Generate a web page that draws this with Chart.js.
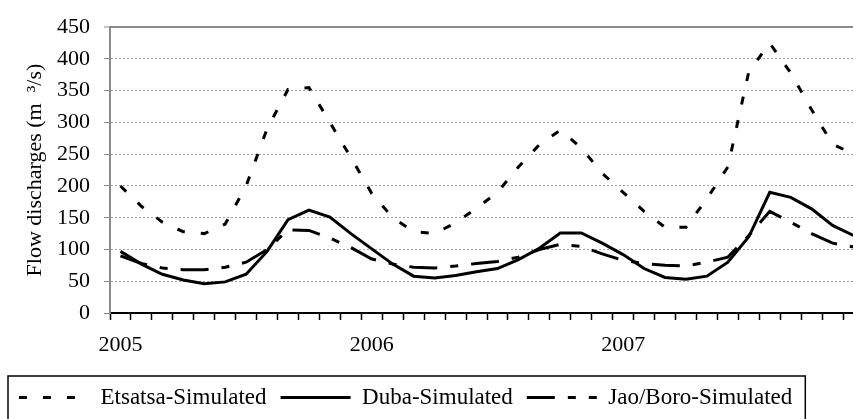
<!DOCTYPE html>
<html>
<head>
<meta charset="utf-8">
<script src="https://cdn.jsdelivr.net/npm/chart.js@4.4.1/dist/chart.umd.min.js"></script>
<style>
  html, body { margin: 0; padding: 0; background: #fff; overflow: hidden; }
  #wrap { width: 870px; height: 419px; }
</style>
</head>
<body>
<div id="wrap"><canvas id="flowChart" width="870" height="419"></canvas></div>
<script>
// monthly values, Jan 2005 - Dec 2007
const years = ['2005', '2006', '2007'];
const monthNames = ['Jan', 'Feb', 'Mar', 'Apr', 'May', 'Jun', 'Jul', 'Aug', 'Sep', 'Oct', 'Nov', 'Dec'];

const etsatsa = [200, 168, 143, 128, 125, 140, 200, 290, 352, 355, 300, 245,
                 188, 150, 128, 125, 142, 165, 190, 230, 265, 288, 260, 220,
                 190, 160, 135, 135, 180, 230, 380, 425, 378, 320, 266, 250];
const duba = [97, 77, 61, 52, 46, 49, 61, 97, 147, 162, 151, 125,
              101, 77, 58, 55, 59, 65, 70, 84, 102, 126, 126, 110,
              92, 70, 56, 53, 58, 80, 120, 190, 182, 164, 138, 122];
const jaoBoro = [90, 78, 71, 68, 68, 72, 80, 100, 131, 130, 118, 103,
                 85, 77, 72, 71, 74, 78, 81, 88, 100, 108, 105, 93,
                 83, 78, 75, 74, 80, 88, 122, 160, 143, 125, 110, 104];

const yMin = 0, yMax = 450, yStep = 50;

let months = [];
years.forEach(function (y) {
    monthNames.forEach(function (m) { months.push(m + ' ' + y); });
});

const serif = "'Liberation Serif', 'Times New Roman', serif";

// frame round the legend, like the excel one
const legendFrame = {
    id: 'legendFrame',
    afterDraw(chart) {
        let boxes = chart.legend.legendHitBoxes;
        if (!boxes || !boxes.length) return;
        let first = boxes[0];
        let last = boxes[boxes.length - 1];
        let cy = first.top + first.height / 2;
        let ctx = chart.ctx;
        ctx.save();
        ctx.strokeStyle = '#000';
        ctx.lineWidth = 1.5;
        ctx.strokeRect(first.left - 11, cy - 21.5, last.left + last.width - first.left + 24, 50);
        ctx.restore();
    }
};

new Chart('flowChart', {
    type: 'line',
    data: {
        labels: months,
        datasets: [{
            label: 'Etsatsa-Simulated',
            data: etsatsa,
            borderColor: '#000',
            borderWidth: 3,
            borderDash: [8, 16]
        }, {
            label: 'Duba-Simulated',
            data: duba,
            borderColor: '#000',
            borderWidth: 3
        }, {
            label: 'Jao/Boro-Simulated',
            data: jaoBoro,
            borderColor: '#000',
            borderWidth: 3,
            borderDash: [28, 13, 8, 13]
        }]
    },
    options: {
        responsive: false,
        devicePixelRatio: 1,
        animation: false,
        layout: { padding: { left: 5, right: 6, top: 19, bottom: 0 } },
        elements: {
            point: { radius: 0 },
            line: { tension: 0, fill: false, borderCapStyle: 'butt' }
        },
        plugins: {
            tooltip: { enabled: false },
            legend: {
                position: 'bottom',
                align: 'start',
                labels: {
                    usePointStyle: true,
                    pointStyle: 'line',
                    pointStyleWidth: 70,
                    padding: 14,
                    color: '#000',
                    font: { family: serif, size: 23 },
                    generateLabels: function (chart) {
                        return chart.data.datasets.map(function (ds, i) {
                            return {
                                text: ds.label,
                                fillStyle: 'rgba(0,0,0,0)',
                                strokeStyle: '#000',
                                fontColor: '#000',
                                lineWidth: 3,
                                lineDash: ds.borderDash || [],
                                pointStyle: 'line',
                                hidden: false,
                                datasetIndex: i
                            };
                        });
                    }
                }
            }
        },
        scales: {
            x: {
                type: 'category',
                offset: true,
                afterFit: function (s) { s.height = 59; },
                grid: {
                    offset: true,
                    drawOnChartArea: false,
                    drawTicks: true,
                    tickLength: 7,
                    tickColor: '#000',
                    tickWidth: 1.5
                },
                border: { color: '#000', width: 2 },
                ticks: {
                    autoSkip: false,
                    maxRotation: 0,
                    padding: 12,
                    color: '#000',
                    font: { family: serif, size: 22 },
                    callback: function (val, i) {
                        return i % 12 === 0 ? months[i].slice(-4) : '';
                    }
                }
            },
            y: {
                min: yMin,
                max: yMax,
                afterFit: function (s) { s.width = 105; },
                grid: {
                    color: function (ctx) {
                        if (!ctx.tick) return '#a0a0a0';
                        if (ctx.tick.value === yMin) return 'rgba(0,0,0,0)';
                        return ctx.tick.value === yMax ? '#8a8a8a' : '#a0a0a0';
                    },
                    lineWidth: function (ctx) {
                        return ctx.tick && ctx.tick.value === yMax ? 2 : 1;
                    },
                    tickColor: '#8a8a8a',
                    tickLength: 6,
                    tickWidth: 1
                },
                border: {
                    color: '#8a8a8a',
                    width: 2,
                    dash: function (ctx) {
                        return ctx.tick && ctx.tick.value !== yMax ? [2, 2] : [];
                    }
                },
                ticks: {
                    stepSize: yStep,
                    padding: 14,
                    color: '#000',
                    font: { family: serif, size: 22 }
                },
                title: {
                    display: true,
                    text: 'Flow discharges (m  \u00b3/s)',
                    color: '#000',
                    font: { family: serif, size: 22 },
                    padding: { top: 17, bottom: 0 }
                }
            }
        }
    },
    plugins: [legendFrame]
});
</script>
</body>
</html>
